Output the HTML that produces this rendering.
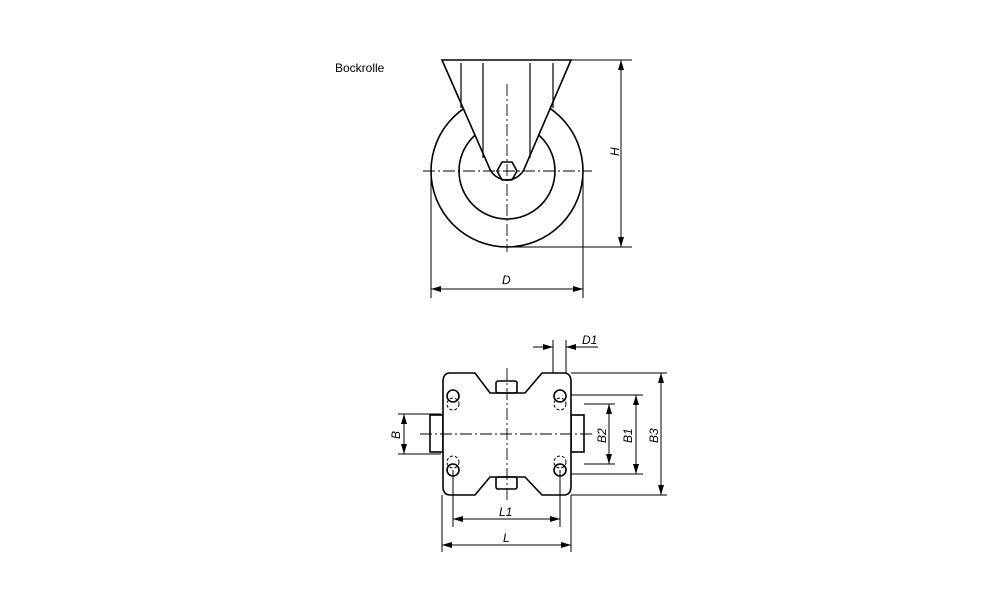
<!DOCTYPE html>
<html><head><style>body{margin:0;background:#fff}svg{display:block}text{font-family:"Liberation Sans",sans-serif;font-size:12px;fill:#000}.i{font-style:italic}</style></head><body>
<svg width="1000" height="611" viewBox="0 0 1000 611" xmlns="http://www.w3.org/2000/svg">
<text x="335" y="72">Bockrolle</text>
<g fill="none" stroke="#000" stroke-width="1.6">
<!-- top view -->
<path d="M431,171 A76,76 0 1 0 583,171 A76,76 0 1 0 431,171" fill="#fff"/>
<circle cx="507" cy="171" r="48"/>
<path d="M442,60 L489,167 A19,19 0 0 0 525,167 L571,60 Z" fill="#fff"/>
<path d="M461,63V108M483,63V158M530,63V158M553,63V108" stroke-width="1.2"/>
<polygon points="497,171 502,162 512,162 517,171 512,180 502,180"/>
<path d="M571,60H632M507,247H632M431,171V298M583,171V298" stroke-width="1"/>
<path d="M621,60V247M431,289H583" stroke-width="1"/>
<path d="M423,171H592M507,84V252" stroke-width="0.9" stroke-dasharray="12,3,2,3"/>
<!-- bottom view -->
<rect x="430" y="415" width="13" height="37"/>
<rect x="571" y="415" width="13" height="37"/>
<path d="M450,373 H475 L490,393 H525 L542,373 H564 Q571,373 571,382 V486 Q571,495 564,495 H542 L525,477 H490 L475,495 H450 Q443,495 443,486 V382 Q443,373 450,373 Z" fill="#fff"/>
<rect x="496" y="381" width="21" height="12" rx="2"/>
<rect x="496" y="477" width="21" height="12" rx="2"/>
<circle cx="453" cy="396" r="6"/><circle cx="560" cy="396" r="6"/>
<circle cx="453" cy="470" r="6"/><circle cx="560" cy="470" r="6"/>
<g stroke-dasharray="3,2" stroke-width="1"><circle cx="453" cy="404" r="6"/><circle cx="560" cy="404" r="6"/><circle cx="453" cy="462" r="6"/><circle cx="560" cy="462" r="6"/></g>
<path d="M507,368V502M420,434H594" stroke-width="0.9" stroke-dasharray="12,3,2,3"/>
<path d="M553,340V373M566,340V373M571,373H667M571,495H667M571,395H643M571,474H643M584,404H615M584,464H615M398,414H441M398,454H441M453,470V527M560,470V527M442,495V552M571,495V552" stroke-width="1"/>
<path d="M661,373V495M636,395V474M609,404V464M404,414V454M453,519H560M442,545H571M533,347H553M566,347H598" stroke-width="1"/>
</g>
<g fill="#000">
<polygon points="621,60 618,70 624,70"/><polygon points="621,247 618,237 624,237"/>
<polygon points="431,289 441,286 441,292"/><polygon points="583,289 573,286 573,292"/>
<polygon points="661,373 658,383 664,383"/><polygon points="661,495 658,485 664,485"/>
<polygon points="636,395 633,405 639,405"/><polygon points="636,474 633,464 639,464"/>
<polygon points="609,404 606,414 612,414"/><polygon points="609,464 606,454 612,454"/>
<polygon points="404,414 401,424 407,424"/><polygon points="404,454 401,444 407,444"/>
<polygon points="453,519 463,516 463,522"/><polygon points="560,519 550,516 550,522"/>
<polygon points="442,545 452,542 452,548"/><polygon points="571,545 561,542 561,548"/>
<polygon points="553,347 543,344 543,350"/><polygon points="566,347 576,344 576,350"/>
</g>
<text class="i" x="502" y="284">D</text>
<text class="i" transform="translate(619,156) rotate(-90)">H</text>
<text class="i" x="582" y="344">D1</text>
<text class="i" transform="translate(400,439) rotate(-90)">B</text>
<text class="i" transform="translate(606,443) rotate(-90)">B2</text>
<text class="i" transform="translate(632,443) rotate(-90)">B1</text>
<text class="i" transform="translate(658,443) rotate(-90)">B3</text>
<text class="i" x="499" y="516">L1</text>
<text class="i" x="503" y="542">L</text>
</svg>
</body></html>
